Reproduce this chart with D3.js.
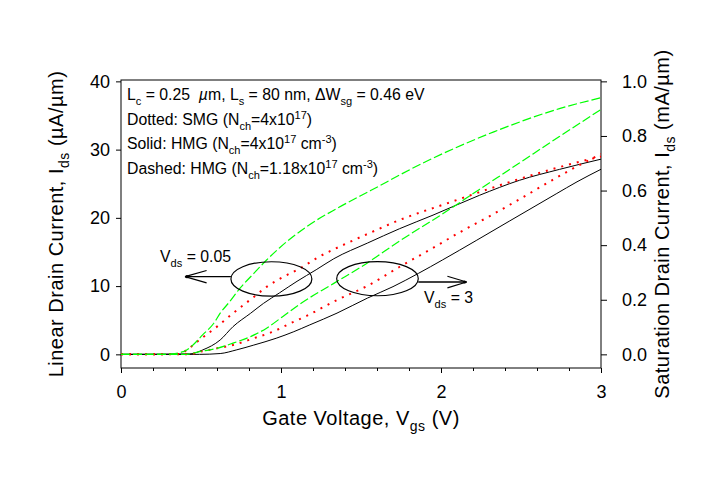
<!DOCTYPE html>
<html><head><meta charset="utf-8">
<script src="https://cdn.jsdelivr.net/npm/d3@7"></script>
<style>
body{margin:0;background:#fff}
text{font-family:Arial,"Liberation Sans",sans-serif;white-space:pre;fill:#000}
</style>
</head><body>
<svg id="c" width="728" height="487"></svg>
<script>
// ---------------- data ----------------
// Linear region (Vds = 0.05 V), left axis, uA/um
const vgsLinSMG = [0, 0.37, 0.41, 0.49, 0.60, 0.70, 0.83, 0.91, 1.01, 1.12, 1.24, 1.41, 1.55, 1.74, 2.06, 2.41, 2.72, 3.0];
const idsLinSMG = [0, 0.06, 0.64, 2.11, 4.06, 6.02, 8.41, 9.88, 11.29, 12.62, 14.32, 16.26, 17.74, 19.67, 22.3, 25.1, 27.3, 29.0];
const vgsLinHMG = [0, 0.43, 0.51, 0.62, 0.70, 0.81, 0.89, 0.99, 1.10, 1.22, 1.33, 1.54, 1.74, 1.95, 2.24, 2.49, 2.74, 3.0];
const idsLinHMG = [0, 0.06, 0.64, 2.11, 4.06, 6.02, 7.46, 9.0, 10.7, 12.4, 14.01, 16.3, 18.4, 20.4, 23.3, 25.5, 27.1, 28.6];
const vgsLinHMG2 = [0, 0.275, 0.39, 0.45, 0.51, 0.58, 0.62, 0.68, 0.74, 0.83, 0.91, 0.99, 1.16, 1.35, 1.56, 1.91, 2.33, 2.74, 3.0];
const idsLinHMG2 = [0, 0, 0.40, 1.38, 2.85, 4.56, 6.03, 7.74, 9.58, 11.86, 13.83, 15.59, 18.71, 21.39, 24.0, 28.3, 32.6, 36.0, 37.6];
// Saturation region (Vds = 3 V), right axis, mA/um
const vgsSatSMG = [0, 0.43, 0.49, 0.60, 0.70, 0.83, 0.95, 1.06, 1.16, 1.35, 1.54, 1.74, 1.95, 2.12, 2.31, 2.43, 2.56, 2.68, 2.81, 2.91, 3.0];
const idsSatSMG = [0, 0, 0.009, 0.022, 0.034, 0.059, 0.083, 0.114, 0.141, 0.199, 0.251, 0.320, 0.390, 0.448, 0.508, 0.548, 0.592, 0.633, 0.676, 0.707, 0.734];
const vgsSatHMG = [0, 0.49, 0.62, 0.72, 0.83, 0.97, 1.08, 1.18, 1.35, 1.54, 1.70, 1.86, 2.01, 2.22, 2.43, 2.60, 2.72, 2.85, 3.0];
const idsSatHMG = [0, 0, 0.003, 0.016, 0.034, 0.059, 0.083, 0.108, 0.151, 0.206, 0.248, 0.297, 0.346, 0.417, 0.489, 0.547, 0.588, 0.632, 0.678];
const vgsSatHMG2 = [0, 0.40, 0.49, 0.60, 0.70, 0.81, 0.91, 1.01, 1.12, 1.33, 1.54, 1.74, 1.99, 2.24, 2.49, 2.74, 3.0];
const idsSatHMG2 = [0, 0, 0.010, 0.022, 0.041, 0.065, 0.096, 0.138, 0.185, 0.260, 0.335, 0.415, 0.507, 0.604, 0.701, 0.798, 0.897];

const xTicks = [0, 1, 2, 3];
const xMinorTicks = [0.2,0.4,0.6,0.8,1.2,1.4,1.6,1.8,2.2,2.4,2.6,2.8];
const yLeftTicks = [0, 10, 20, 30, 40];
const yRightTicks = [0, 0.2, 0.4, 0.6, 0.8, 1.0];

// ---------------- layout ----------------
const L = 121, R = 601, T = 80, B = 368;
const svg = d3.select("#c");
const x = d3.scaleLinear().domain([0, 3]).range([L, R]);
const yL = d3.scaleLinear().domain([-2, 40.2]).range([B, T]);
const yR = d3.scaleLinear().domain([-0.05, 1.005]).range([B, T]);

function rich(sel, parts, size) {
  let shift = 0;
  parts.forEach(([t, k]) => {
    const target = k === 'sub' ? size * 0.32 : k === 'sup' ? -size * 0.38 : 0;
    const sp = sel.append('tspan').attr('dy', target - shift)
      .attr('font-size', (k === 'n' || k === 'it') ? size : size * 0.7).text(t);
    if (k === 'it') sp.attr('font-style', 'italic');
    shift = target;
  });
  return sel;
}

// axes
const gx = svg.append('g').attr('transform', `translate(0,${B})`)
  .call(d3.axisBottom(x).tickValues(xTicks).tickSize(5).tickPadding(12).tickFormat(d3.format('d')));
const gxm = svg.append('g').attr('transform', `translate(0,${B})`)
  .call(d3.axisBottom(x).tickValues(xMinorTicks).tickSize(3).tickFormat(''));
const gyl = svg.append('g').attr('transform', `translate(${L},0)`)
  .call(d3.axisLeft(yL).tickValues(yLeftTicks).tickSize(5).tickPadding(6));
const gyr = svg.append('g').attr('transform', `translate(${R},0)`)
  .call(d3.axisRight(yR).tickValues(yRightTicks).tickSize(6).tickPadding(15).tickFormat(d3.format('.1f')));
[gx, gxm, gyl, gyr].forEach(g => {
  g.select('.domain').remove();
  g.selectAll('.tick line').attr('stroke', '#000').attr('stroke-width', 1);
  g.selectAll('.tick text').attr('font-size', 18).attr('font-family', 'Arial, "Liberation Sans", sans-serif').attr('fill', '#000');
});

// frame
svg.append('rect').attr('x', L).attr('y', T).attr('width', R - L).attr('height', B - T)
  .attr('fill', 'none').attr('stroke', '#000').attr('stroke-width', 1);

// curves
svg.append('clipPath').attr('id', 'clp').append('rect')
  .attr('x', L).attr('y', T).attr('width', R - L).attr('height', B - T);
const plot = svg.append('g').attr('clip-path', 'url(#clp)');
function curve(xs, ys, yScale, color, dash, w) {
  const pts = xs.map((v, i) => [v, ys[i]]);
  const line = d3.line().x(d => x(d[0])).y(d => yScale(d[1])).curve(d3.curveMonotoneX);
  plot.append('path').attr('d', line(pts)).attr('fill', 'none')
    .attr('stroke', color).attr('stroke-width', w).attr('stroke-dasharray', dash);
}
curve(vgsLinHMG, idsLinHMG, yL, '#000', null, 1);
curve(vgsSatHMG, idsSatHMG, yR, '#000', null, 1);
curve(vgsLinSMG, idsLinSMG, yL, '#ff0000', '2,6', 2);
curve(vgsSatSMG, idsSatSMG, yR, '#ff0000', '2,6', 2);
curve(vgsLinHMG2, idsLinHMG2, yL, '#00ff00', '9,3', 1.2);
curve(vgsSatHMG2, idsSatHMG2, yR, '#00ff00', '9,3', 1.2);

// annotations (positions in data units of the left axis)
const ellipses = [{cx: 0.94, cy: 11.05, rx: 0.253, ry: 2.52}, {cx: 1.603, cy: 11.09, rx: 0.255, ry: 2.5}];
ellipses.forEach(e => {
  svg.append('ellipse').attr('cx', x(e.cx)).attr('cy', yL(e.cy))
    .attr('rx', x(e.rx) - x(0)).attr('ry', yL(0) - yL(e.ry))
    .attr('fill', 'none').attr('stroke', '#000').attr('stroke-width', 1.2);
});
const arrows = [
  {x0: 0.687, x1: 0.40, y: 11.38, bx: 0.535, by: 0.9},
  {x0: 1.858, x1: 2.16, y: 10.6, bx: 2.04, by: 0.85}
];
arrows.forEach(a => {
  svg.append('line').attr('x1', x(a.x0)).attr('x2', x(a.x1)).attr('y1', yL(a.y)).attr('y2', yL(a.y))
    .attr('stroke', '#000').attr('stroke-width', 1.3);
  [1, -1].forEach(s => svg.append('line').attr('x1', x(a.x1)).attr('y1', yL(a.y))
    .attr('x2', x(a.bx)).attr('y2', yL(a.y + s * a.by)).attr('stroke', '#000').attr('stroke-width', 1.2));
  svg.append('circle').attr('cx', x(a.x1) + (a.x1 < a.x0 ? 2 : -2)).attr('cy', yL(a.y)).attr('r', 1.6).attr('fill', '#000');
});
rich(svg.append('text').attr('x', x(0.244)).attr('y', yL(13.58)),
  [['V', 'n'], ['ds', 'sub'], [' = 0.05', 'n']], 15.8);
rich(svg.append('text').attr('x', x(1.894)).attr('y', yL(7.49)),
  [['V', 'n'], ['ds', 'sub'], [' = 3', 'n']], 15.8);

// legend text
const legendLines = [
  [['L', 'n'], ['c', 'sub'], [' = 0.25  ', 'n'], ['µ', 'it'], ['m, L', 'n'], ['s', 'sub'], [' = 80 nm, ΔW', 'n'], ['sg', 'sub'], [' = 0.46 eV', 'n']],
  [['Dotted: SMG (N', 'n'], ['ch', 'sub'], ['=4x10', 'n'], ['17', 'sup'], [')', 'n']],
  [['Solid: HMG (N', 'n'], ['ch', 'sub'], ['=4x10', 'n'], ['17', 'sup'], [' cm', 'n'], ['-3', 'sup'], [')', 'n']],
  [['Dashed: HMG (N', 'n'], ['ch', 'sub'], ['=1.18x10', 'n'], ['17', 'sup'], [' cm', 'n'], ['-3', 'sup'], [')', 'n']]
];
legendLines.forEach((parts, i) => {
  rich(svg.append('text').attr('x', 127).attr('y', 100 + i * 24.6), parts, 15.8);
});

// axis titles
rich(svg.append('text').attr('x', (L + R) / 2).attr('y', 425).attr('text-anchor', 'middle').attr('letter-spacing', 0.5),
  [['Gate Voltage, V', 'n'], ['gs', 'sub'], [' (V)', 'n']], 20);
rich(svg.append('text').attr('text-anchor', 'middle').attr('letter-spacing', 0.5).attr('transform', `translate(63,${(T + B) / 2}) rotate(-90)`),
  [['Linear Drain Current, I', 'n'], ['ds', 'sub'], [' (µA/µm)', 'n']], 20);
rich(svg.append('text').attr('text-anchor', 'middle').attr('letter-spacing', 0.5).attr('transform', `translate(669,${(T + B) / 2}) rotate(-90)`),
  [['Saturation Drain Current, I', 'n'], ['ds', 'sub'], [' (mA/µm)', 'n']], 20);
</script>
</body></html>
